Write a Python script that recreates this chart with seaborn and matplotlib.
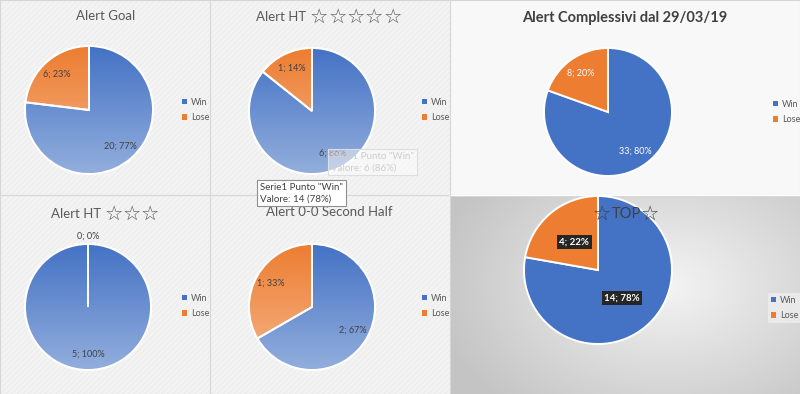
import numpy as np
import matplotlib
matplotlib.use("Agg")
import matplotlib.pyplot as plt
import seaborn as sns
from matplotlib.colors import LinearSegmentedColormap
from matplotlib.patches import Wedge, Rectangle, Patch

# ------------------------------------------------------------------
# DATA
# ------------------------------------------------------------------
outcomes = ["Win", "Lose"]
goal_vals = [20, 6]
ht5_vals = [6, 1]
total_vals = [33, 8]
ht3_vals = [5, 0]
half_vals = [2, 1]
top_vals = [14, 4]

titles = [
    "Alert Goal",
    "Alert HT \u2606\u2606\u2606\u2606\u2606",
    "Alert Complessivi dal 29/03/19",
    "Alert HT \u2606\u2606\u2606",
    "Alert 0-0 Second Half",
    "\u2606TOP\u2606",
]
tooltip_main = 'Serie1 Punto "Win"\nValore: 14 (78%)'
tooltip_faded = 'Serie1 Punto "Win"\nValore: 6 (86%)'

# ------------------------------------------------------------------
# STYLE
# ------------------------------------------------------------------
sns.set_theme(style="white")
plt.rcParams["font.family"] = ["Lato", "DejaVu Sans"]
plt.rcParams["hatch.linewidth"] = 0.35

BLUE, ORANGE = "#4472C4", "#ED7D31"
BLUE_LIGHT, ORANGE_LIGHT = "#93AEDD", "#F5B589"
TXT = "#595959"
STAR = "\u2606"

W, H = 800, 394
fig = plt.figure(figsize=(W / 100, H / 100), dpi=100)
renderer = fig.canvas.get_renderer()


def fig_axes(x, y, w, h):
    return fig.add_axes([x / W, 1 - (y + h) / H, w / W, h / H])


def panel(x, y, w, h, kind):
    ax = fig_axes(x, y, w, h)
    ax.set_xlim(0, 1)
    ax.set_ylim(0, 1)
    ax.axis("off")
    if kind == "hatch":
        ax.add_patch(Rectangle((0, 0), 1, 1, fc="#f3f3f3", ec="none"))
        ax.add_patch(Rectangle((0, 0), 1, 1, fc="none", ec="#e6e6e6",
                               hatch="//////", lw=0))
    elif kind == "plain":
        ax.add_patch(Rectangle((0, 0), 1, 1, fc="#f8f8f8", ec="none"))
    else:
        gx, gy = np.meshgrid(np.linspace(0, 1, 200), np.linspace(0, 1, 120))
        d = np.sqrt(((gx - 0.62) * 1.1) ** 2 + ((gy - 0.55) * 0.9) ** 2)
        cmap = LinearSegmentedColormap.from_list("bg", ["#f4f4f4", "#c4c4c4"])
        ax.imshow(d, cmap=cmap, extent=[0, 1, 0, 1], aspect="auto",
                  origin="lower", interpolation="bilinear", vmin=0, vmax=0.75)
    ax.add_patch(Rectangle((0, 0), 1, 1, fc="none", ec="#d6d6d6", lw=0.8))
    return ax


def draw_pie(cx, cy, r, values, style):
    pad = 1.1
    ax = fig_axes(cx - r * pad, cy - r * pad, 2 * r * pad, 2 * r * pad)
    wedges, _ = ax.pie(values, colors=[BLUE, ORANGE], startangle=90,
                       counterclock=False,
                       wedgeprops=dict(edgecolor="white", linewidth=1.4))
    if style == "gradient":
        grad = np.linspace(0, 1, 256).reshape(-1, 1)
        for w, c0, c1 in zip(wedges, [BLUE, ORANGE], [BLUE_LIGHT, ORANGE_LIGHT]):
            cmap = LinearSegmentedColormap.from_list("g", [c0, c1])
            im = ax.imshow(grad, cmap=cmap, extent=[-1, 1, -1, 1],
                           aspect="auto", origin="upper", zorder=2,
                           interpolation="bilinear")
            im.set_clip_path(w)
            ax.add_patch(Wedge(w.center, w.r, w.theta1, w.theta2, fc="none",
                               ec="white", lw=1.4, zorder=3))
    ax.set_xlim(-pad, pad)
    ax.set_ylim(-pad, pad)
    ax.axis("off")

    total = sum(values)
    for w, v in zip(wedges, values):
        ang = np.deg2rad((w.theta1 + w.theta2) / 2)
        lbl = f"{v}; {round(100 * v / total)}%"
        if style == "top":
            dist = 0.5
            kw = dict(color="white", fontweight="bold", fontsize=7,
                      bbox=dict(boxstyle="square,pad=0.25", fc="#262626",
                                ec="none"))
        elif style == "solid":
            dist = 0.75
            kw = dict(color="white", fontsize=6.5)
        else:
            dist = 0.75 if v > 0 else 1.13
            kw = dict(color="#404040", fontsize=6.5)
        ax.text(dist * np.cos(ang), dist * np.sin(ang), lbl,
                ha="center", va="center", zorder=5, **kw)
    return ax


def title(text, cx, cy, fs, color, weight="normal", star_scale=1.55):
    # split into runs so the stars can be drawn larger, as in the original
    runs, cur = [], ""
    for ch in text:
        if ch == STAR:
            if cur:
                runs.append((cur, fs))
            runs.append((ch, fs * star_scale))
            cur = ""
        else:
            cur += ch
    if cur:
        runs.append((cur, fs))
    arts = []
    for s, size in runs:
        t = fig.text(0, 1 - cy / H, s, fontsize=size, color=color,
                     fontweight=weight, ha="left", va="center", zorder=6)
        arts.append(t)
    widths = [a.get_window_extent(renderer).width for a in arts]
    x = cx - sum(widths) / 2
    for a, wd in zip(arts, widths):
        a.set_x(x / W)
        x += wd


def legend(x, y, boxed=False):
    handles = [Patch(fc=BLUE, ec="none"), Patch(fc=ORANGE, ec="none")]
    lg = fig.legend(handles, outcomes, loc="center left",
                    bbox_to_anchor=(x / W, 1 - y / H), fontsize=6.5,
                    frameon=boxed, handlelength=0.6, handleheight=0.6,
                    handletextpad=0.4, labelspacing=0.75, borderpad=0.3,
                    borderaxespad=0)
    for t in lg.get_texts():
        t.set_color(TXT)
    if boxed:
        lg.get_frame().set_facecolor("#eeeeee")
        lg.get_frame().set_edgecolor("none")
        lg.get_frame().set_alpha(0.8)


# ------------------------------------------------------------------
# PANELS
# ------------------------------------------------------------------
panel(0, 0, 210, 195, "hatch")
panel(210, 0, 240, 195, "hatch")
panel(450, 0, 350, 195, "plain")
panel(0, 195, 210, 199, "hatch")
panel(210, 195, 240, 199, "hatch")
panel(450, 196, 350, 198, "radial")

draw_pie(89, 110, 64, goal_vals, "gradient")
draw_pie(312, 111, 63, ht5_vals, "gradient")
draw_pie(608, 112, 64, total_vals, "solid")
draw_pie(88, 307, 63, ht3_vals, "gradient")
draw_pie(312, 307, 63, half_vals, "gradient")
draw_pie(598, 270, 74, top_vals, "top")

title(titles[0], 106, 16, 9.5, TXT)
title(titles[1], 329, 17, 9.5, TXT)
title(titles[2], 625, 18, 10.5, "#404040", weight="bold")
title(titles[3], 105, 214, 9.5, TXT)
title(titles[4], 329, 212, 9.5, TXT)
title(titles[5], 626, 214, 10.5, "#404040", star_scale=1.4)

legend(179, 110)
legend(419, 110)
legend(770, 112)
legend(179, 306)
legend(419, 306)
legend(768, 308, boxed=True)

# tooltips
fig.text(331 / W, 1 - 162 / H, tooltip_faded, fontsize=7, color="#cdcdcd",
         ha="left", va="center", linespacing=1.4, zorder=8,
         bbox=dict(boxstyle="square,pad=0.3", fc=(1, 1, 1, 0.45),
                   ec="#dedede", lw=0.8))
fig.text(260 / W, 1 - 193 / H, tooltip_main, fontsize=7, color="#404040",
         ha="left", va="center", linespacing=1.4, zorder=9,
         bbox=dict(boxstyle="square,pad=0.3", fc="white", ec="#8f8f8f",
                   lw=0.8))

fig.savefig("out.png", dpi=100)
